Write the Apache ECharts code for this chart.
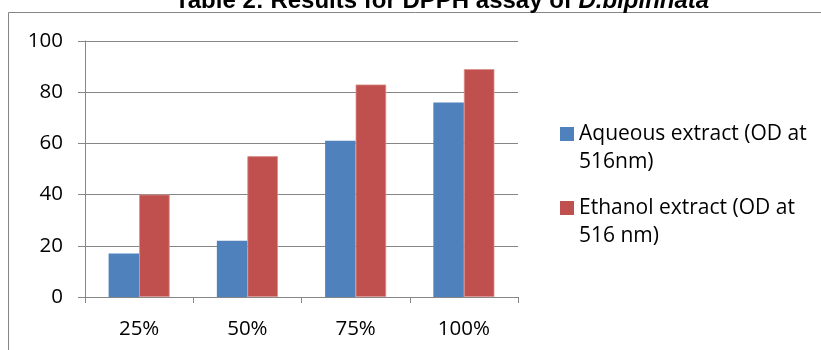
<!DOCTYPE html>
<html>
<head>
<meta charset="utf-8">
<script src="https://cdn.jsdelivr.net/npm/echarts@6/dist/echarts.min.js"></script>
<style>
  html, body { margin: 0; padding: 0; background: #ffffff; }
  #chart { width: 821px; height: 350px; }
</style>
</head>
<body>
<div id="chart"></div>
<script>
// Concentration levels on the x axis
const categories = ['25%', '50%', '75%', '100%'];
// Series names (legend labels)
const aqueousName = 'Aqueous extract (OD at\n516nm)';
const ethanolName = 'Ethanol extract (OD at\n516 nm)';
// Measured values per concentration
const aqueousValues = [17, 22, 61, 76];
const ethanolValues = [40, 55, 83, 89];
// Value axis range
const yMin = 0, yMax = 100, yStep = 20;

const chart = echarts.init(document.getElementById('chart'), null, { renderer: 'canvas' });

const axisGrey = '#868686';
const labelFont = 'Open Sans';
const axisSize = 20.5;
const legendSize = 21;
const legendLine = 28;

// One legend block per series; a leading empty line puts the swatch
// level with the first text line instead of the middle of the block.
function legendFor(name, firstLineCenter) {
  return {
    data: [name],
    orient: 'vertical',
    left: 560,
    top: firstLineCenter - 1.5 * legendLine,
    padding: 0,
    itemWidth: 14,
    itemHeight: 14,
    itemGap: 0,
    icon: 'rect',
    selectedMode: false,
    formatter: n => '\n' + n,
    itemStyle: { borderWidth: 0 },
    textStyle: {
      fontFamily: labelFont,
      fontSize: legendSize,
      color: '#000000',
      lineHeight: legendLine
    }
  };
}

chart.setOption({
  animation: false,
  backgroundColor: '#ffffff',
  title: {
    text: 'Table 2: Results for DPPH assay of {i|D.bipinnata}',
    left: 442,
    top: -11,
    textAlign: 'center',
    padding: 0,
    textStyle: {
      fontFamily: 'Liberation Sans',
      fontWeight: 'bold',
      fontSize: 24,
      color: '#000000',
      rich: {
        i: {
          fontFamily: 'Liberation Sans',
          fontWeight: 'bold',
          fontStyle: 'italic',
          fontSize: 24,
          color: '#000000'
        }
      }
    }
  },
  graphic: [{
    type: 'rect',
    silent: true,
    z: -1,
    shape: { x: 8.5, y: 12.5, width: 830, height: 400 },
    style: { fill: 'none', stroke: axisGrey, lineWidth: 1 }
  }],
  legend: [
    legendFor(aqueousName, 134),
    legendFor(ethanolName, 208)
  ],
  grid: { left: 85, right: 303, top: 41, bottom: 53, containLabel: false },
  xAxis: {
    type: 'category',
    data: categories,
    axisLine: { show: true, lineStyle: { color: axisGrey, width: 1 } },
    axisTick: { show: true, length: 6, lineStyle: { color: axisGrey } },
    axisLabel: { color: '#000000', fontFamily: labelFont, fontSize: axisSize, margin: 22 },
    splitLine: { show: false }
  },
  yAxis: {
    type: 'value',
    min: yMin,
    max: yMax,
    interval: yStep,
    axisLine: { show: true, lineStyle: { color: axisGrey, width: 1 } },
    axisTick: { show: true, length: 7, lineStyle: { color: axisGrey } },
    axisLabel: { color: '#000000', fontFamily: labelFont, fontSize: axisSize, margin: 22 },
    splitLine: { show: true, lineStyle: { color: axisGrey, width: 1 } }
  },
  series: [
    {
      name: aqueousName,
      type: 'bar',
      data: aqueousValues,
      barGap: '0%',
      barCategoryGap: '43.6%',
      itemStyle: { color: '#4F81BD' }
    },
    {
      name: ethanolName,
      type: 'bar',
      data: ethanolValues,
      barGap: '0%',
      barCategoryGap: '43.6%',
      itemStyle: { color: '#C0504D', borderColor: '#D88E8C', borderWidth: 0.8 }
    }
  ]
});
</script>
</body>
</html>
